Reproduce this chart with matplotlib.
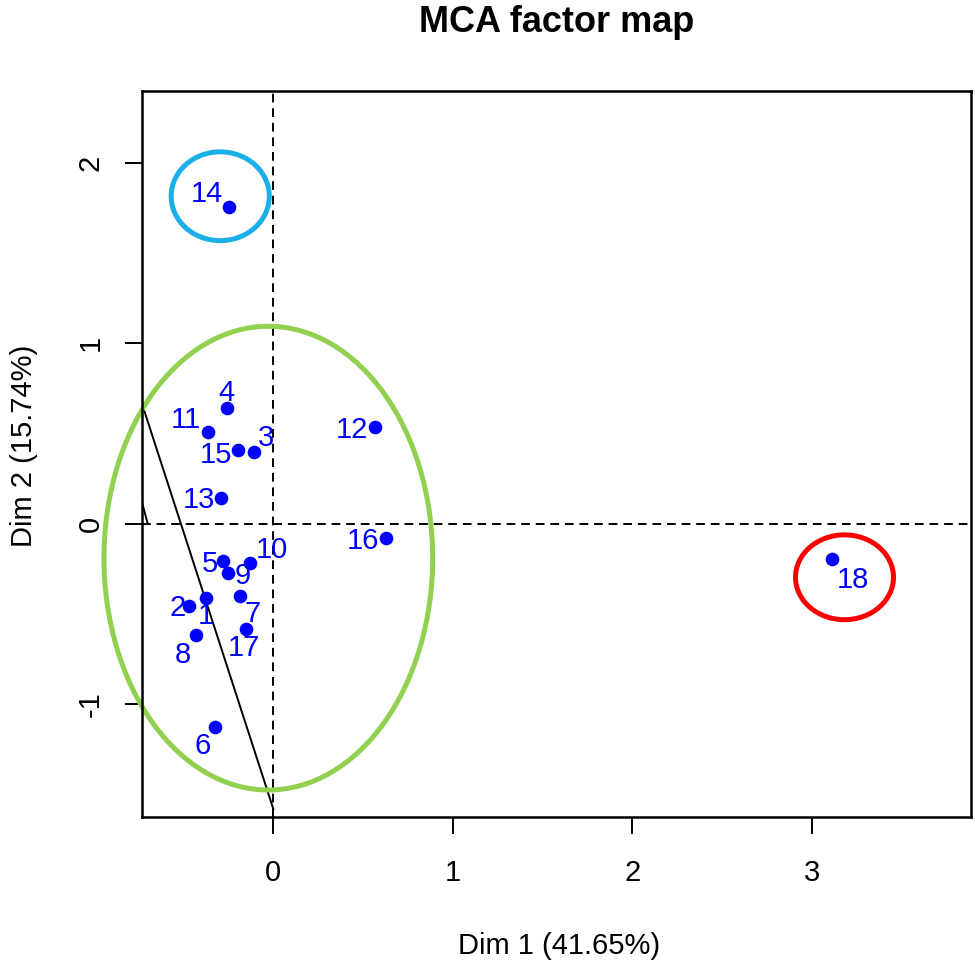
import matplotlib
matplotlib.use('Agg')
import matplotlib.pyplot as plt
from matplotlib.patches import Ellipse

plt.rcParams['font.family'] = ['Liberation Sans', 'DejaVu Sans']

# individuals coordinates on the first two dimensions
ind_names = ['1', '2', '3', '4', '5', '6', '7', '8', '9', '10',
             '11', '12', '13', '14', '15', '16', '17', '18']
dim1 = [-0.374, -0.469, -0.108, -0.259, -0.278, -0.324, -0.184, -0.432, -0.250,
        -0.128, -0.363, 0.564, -0.291, -0.246, -0.196, 0.626, -0.153, 3.112]
dim2 = [-0.411, -0.453, 0.398, 0.643, -0.208, -1.125, -0.402, -0.613, -0.272,
        -0.219, 0.508, 0.536, 0.144, 1.757, 0.407, -0.081, -0.580, -0.195]

# groups drawn by hand: center x, center y, width, height
groups = {
    'green': (-0.028, -0.19, 1.832, 2.569),
    'cyan': (-0.296, 1.815, 0.547, 0.492),
    'red': (3.183, -0.296, 0.546, 0.470),
}
group_colors = {'green': '#92D050', 'cyan': '#1AAFE6', 'red': '#FF0000'}

# stray straight segments
seg1_x = [-0.74, 0.0]
seg1_y = [0.69, -1.58]
seg2_x = [-0.74, -0.70]
seg2_y = [0.15, 0.0]

xticks = [0, 1, 2, 3]
yticks = [-1, 0, 1, 2]

# label offsets (pixels) so the numbers sit like the repelled R labels
lab_off = {'1': (0, -18), '2': (-12, -2), '3': (12, 14), '4': (0, 15),
           '5': (-14, -3), '6': (-13, -19), '7': (12, -18), '8': (-13, -20),
           '9': (14, -3), '10': (21, 13), '11': (-22, 12), '12': (-23, -3),
           '13': (-22, -2), '14': (-22, 13), '15': (-22, -5), '16': (-23, -3),
           '17': (-2, -19), '18': (21, -21)}

fig = plt.figure(figsize=(9.75, 9.67), dpi=100)
ax = fig.add_axes([142 / 975, 1 - 817 / 967, (971 - 142) / 975, (817 - 91) / 967])

ax.axhline(0, color='black', ls=(0, (4.5, 3)), lw=1.4, zorder=1)
ax.axvline(0, color='black', ls=(0, (4.5, 3)), lw=1.4, zorder=1)

ax.plot(seg1_x, seg1_y, color='black', lw=1.4, zorder=2)
ax.plot(seg2_x, seg2_y, color='black', lw=1.4, zorder=2)

for key, (cx, cy, w, h) in groups.items():
    ax.add_patch(Ellipse((cx, cy), w, h, fill=False, edgecolor=group_colors[key],
                         lw=3.6, zorder=2, clip_on=False))

ax.plot(dim1, dim2, 'o', color='#0000FF', ms=8.8, zorder=3)
for name, x, y in zip(ind_names, dim1, dim2):
    dx, dy = lab_off[name]
    ax.annotate(name, (x, y), xytext=(dx, dy), textcoords='offset pixels',
                ha='center', va='center', color='#0000FF', fontsize=21, zorder=4)

ax.set_xlim(-0.732, 3.888)
ax.set_ylim(-1.624, 2.398)
ax.set_xticks(xticks)
ax.set_yticks(yticks)
ax.set_xticklabels([str(t) for t in xticks], fontsize=21)
ax.set_yticklabels([str(t) for t in yticks], fontsize=21, rotation=90, va='center')
ax.tick_params(direction='out', length=12, width=1.4)
ax.tick_params(axis='x', pad=18)
ax.tick_params(axis='y', pad=15)
for sp in ax.spines.values():
    sp.set_linewidth(1.8)

fig.text(0.571, 0.977, 'MCA factor map', ha='center', va='center',
         fontsize=26, fontweight='bold')
fig.text(0.573, 0.022, 'Dim 1 (41.65%)', ha='center', va='center', fontsize=21)
fig.text(0.025, 0.539, 'Dim 2 (15.74%)', ha='center', va='center', fontsize=21,
         rotation=90)

fig.savefig('out.png', dpi=100)
